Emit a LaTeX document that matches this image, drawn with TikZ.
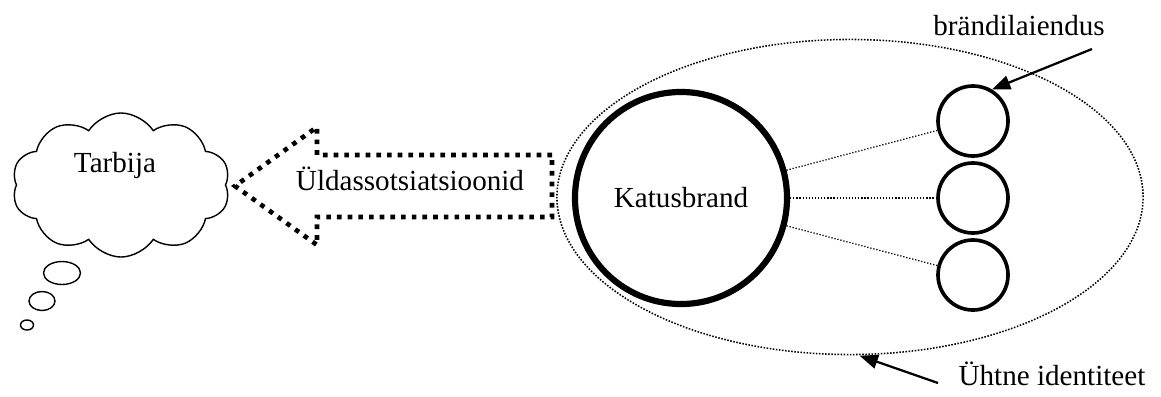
\documentclass[tikz,border=0pt]{standalone}
\usepackage{fontspec}
\setmainfont{Liberation Serif}
\usetikzlibrary{shapes.geometric, shapes.symbols, arrows.meta, positioning}
\tikzstyle{pointer} = [line width=1.6pt,-{Triangle[length=13pt,width=10pt]}]
\tikzstyle{bubble} = [ellipse, draw, line width=1pt, inner sep=0pt]
\tikzstyle{brand} = [circle, draw, inner sep=0pt]
\tikzstyle{finedots} = [line width=1.1pt, dash pattern=on 1.1pt off 1.1pt]

\begin{document}
\begin{tikzpicture}[x=0.025cm, y=-0.025cm, font=\fontsize{20.7}{25}\selectfont]
        \useasboundingbox (0,0) rectangle (1161,396);
        % common identity around the umbrella brand
        \node[ellipse, draw, finedots, minimum width=14.65cm, minimum height=7.875cm] (ident) at (850,197) {};
        \node[brand, line width=4.4pt, minimum size=5.3cm] (umbrella) at (681,198) {Katusbrand};
        \node[brand, line width=2.6pt, minimum size=1.75cm] (ext1) at (973,121) {};
        \node[brand, line width=2.6pt, minimum size=1.75cm] (ext2) at (973,198) {};
        \node[brand, line width=2.6pt, minimum size=1.75cm] (ext3) at (973,275) {};
        \foreach \n in {1,2,3} \draw[finedots, line width=0.9pt, dash pattern=on 0.9pt off 1.3pt] (umbrella) -- (ext\n);
        \node[anchor=base] (extlabel) at (1019,35) {brändilaiendus};
        \coordinate (extfrom) at (1092,49);
        \draw[pointer] (extfrom) -- (ext1.59);
        \node[anchor=base] (identlabel) at (1052,385) {Ühtne identiteet};
        \coordinate (identfrom) at (938,383);
        \draw[pointer, shorten >=1pt] (identfrom) -- (ident.-87);
        % associations flowing to the consumer
        \draw[line width=3.3pt, dash pattern=on 3.3pt off 4.3pt] (552,155) -- (317,155) -- (317,127) -- (235,186) -- (317,245) -- (317,217) -- (552,217) -- cycle;
        \node[anchor=base] (assoc) at (410,190) {Üldassotsiatsioonid};
        \node[cloud, draw, cloud puffs=10, cloud puff arc=115, aspect=1.5, line width=1pt, minimum width=5.45cm, minimum height=3.6cm] (consumer) at (121,185) {};
        \node[anchor=base] (tarbija) at (115,172) {Tarbija};
        \node[bubble, minimum width=0.925cm, minimum height=0.575cm] (b1) at (62,273) {};
        \node[bubble, minimum width=0.65cm, minimum height=0.475cm] (b2) at (42,301) {};
        \node[bubble, minimum width=0.325cm, minimum height=0.25cm] (b3) at (27,325) {};
\end{tikzpicture}
\end{document}
